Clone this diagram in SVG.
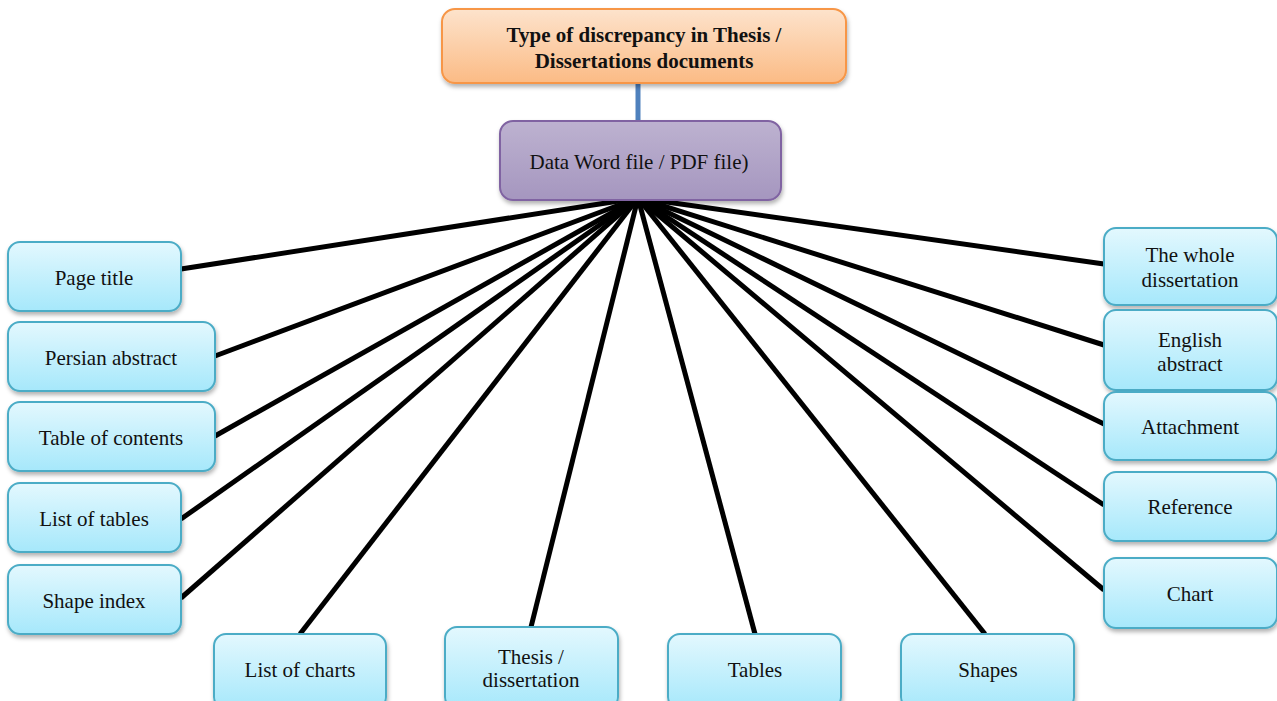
<svg xmlns="http://www.w3.org/2000/svg" width="1277" height="701" viewBox="0 0 1277 701">
  <defs>
    <linearGradient id="gCyan" x1="0" y1="0" x2="0" y2="1">
      <stop offset="0" stop-color="#e3f8fe"/>
      <stop offset="1" stop-color="#a6e8fb"/>
    </linearGradient>
    <linearGradient id="gOrange" x1="0" y1="0" x2="0" y2="1">
      <stop offset="0" stop-color="#fde3cc"/>
      <stop offset="1" stop-color="#fbbb85"/>
    </linearGradient>
    <linearGradient id="gPurple" x1="0" y1="0" x2="0" y2="1">
      <stop offset="0" stop-color="#bdb2d0"/>
      <stop offset="1" stop-color="#a596bf"/>
    </linearGradient>
    <filter id="shadow" x="-10%" y="-10%" width="130%" height="140%">
      <feDropShadow dx="1" dy="3" stdDeviation="2" flood-color="#000" flood-opacity="0.3"/>
    </filter>
  </defs>
  <style>
    .leaf rect { fill: url(#gCyan); stroke: #4bacc6; stroke-width: 2; filter: url(#shadow); }
    .title rect { fill: url(#gOrange); stroke: #f79646; stroke-width: 2; filter: url(#shadow); }
    .hub rect { fill: url(#gPurple); stroke: #8064a2; stroke-width: 2; filter: url(#shadow); }
    .spoke { stroke: #000; stroke-width: 5; fill: none; }
    .stem { stroke: #4f81bd; stroke-width: 5; fill: none; }
  </style>

  <rect width="1277" height="701" fill="#fff"/>

  <!-- connectors -->
  <g id="connectors">
    <line class="stem" x1="638" y1="83" x2="638" y2="128"/>
    <line class="spoke" x1="638" y1="198" x2="181" y2="269"/>
    <line class="spoke" x1="638" y1="198" x2="215" y2="356"/>
    <line class="spoke" x1="638" y1="198" x2="215" y2="436"/>
    <line class="spoke" x1="638" y1="198" x2="181" y2="519"/>
    <line class="spoke" x1="638" y1="198" x2="181" y2="598"/>
    <line class="spoke" x1="638" y1="198" x2="300" y2="634"/>
    <line class="spoke" x1="638" y1="198" x2="531" y2="627"/>
    <line class="spoke" x1="638" y1="198" x2="755" y2="634"/>
    <line class="spoke" x1="638" y1="198" x2="985" y2="634"/>
    <line class="spoke" x1="638" y1="198" x2="1104" y2="264"/>
    <line class="spoke" x1="638" y1="198" x2="1104" y2="345"/>
    <line class="spoke" x1="638" y1="198" x2="1104" y2="424"/>
    <line class="spoke" x1="638" y1="198" x2="1104" y2="505"/>
    <line class="spoke" x1="638" y1="198" x2="1104" y2="590"/>
  </g>

  <g font-family="Liberation Serif, Times New Roman, serif" font-size="21" fill="#111" text-anchor="middle">
    <!-- top node -->
    <g id="title" class="title">
      <rect x="442" y="9" width="404" height="74" rx="13"/>
      <text x="644" y="42" font-weight="bold">Type of discrepancy in Thesis /</text>
      <text x="644" y="68" font-weight="bold">Dissertations documents</text>
    </g>

    <!-- hub -->
    <g id="hub" class="hub">
      <rect x="500" y="121" width="281" height="79" rx="13"/>
      <text x="639" y="169">Data Word file / PDF file)</text>
    </g>

    <!-- left column -->
    <g id="page-title" class="leaf">
      <rect x="8" y="242" width="173" height="69" rx="12"/>
      <text x="94" y="285">Page title</text>
    </g>
    <g id="persian-abstract" class="leaf">
      <rect x="8" y="322" width="207" height="69" rx="12"/>
      <text x="111" y="365">Persian abstract</text>
    </g>
    <g id="table-of-contents" class="leaf">
      <rect x="8" y="402" width="207" height="69" rx="12"/>
      <text x="111" y="445">Table of contents</text>
    </g>
    <g id="list-of-tables" class="leaf">
      <rect x="8" y="483" width="173" height="69" rx="12"/>
      <text x="94" y="526">List of tables</text>
    </g>
    <g id="shape-index" class="leaf">
      <rect x="8" y="565" width="173" height="69" rx="12"/>
      <text x="94" y="608">Shape index</text>
    </g>

    <!-- bottom row -->
    <g id="list-of-charts" class="leaf">
      <rect x="214" y="634" width="172" height="75" rx="12"/>
      <text x="300" y="677">List of charts</text>
    </g>
    <g id="thesis-dissertation" class="leaf">
      <rect x="445" y="627" width="173" height="82" rx="12"/>
      <text x="531" y="664">Thesis /</text>
      <text x="531" y="687">dissertation</text>
    </g>
    <g id="tables" class="leaf">
      <rect x="668" y="634" width="173" height="75" rx="12"/>
      <text x="755" y="677">Tables</text>
    </g>
    <g id="shapes" class="leaf">
      <rect x="901" y="634" width="173" height="75" rx="12"/>
      <text x="988" y="677">Shapes</text>
    </g>

    <!-- right column -->
    <g id="whole-dissertation" class="leaf">
      <rect x="1104" y="228" width="173" height="77" rx="12"/>
      <text x="1190" y="262">The whole</text>
      <text x="1190" y="287">dissertation</text>
    </g>
    <g id="english-abstract" class="leaf">
      <rect x="1104" y="310" width="173" height="80" rx="12"/>
      <text x="1190" y="347">English</text>
      <text x="1190" y="371">abstract</text>
    </g>
    <g id="attachment" class="leaf">
      <rect x="1104" y="392" width="173" height="68" rx="12"/>
      <text x="1190" y="434">Attachment</text>
    </g>
    <g id="reference" class="leaf">
      <rect x="1104" y="472" width="173" height="69" rx="12"/>
      <text x="1190" y="514">Reference</text>
    </g>
    <g id="chart" class="leaf">
      <rect x="1104" y="558" width="173" height="70" rx="12"/>
      <text x="1190" y="601">Chart</text>
    </g>
  </g>
</svg>
